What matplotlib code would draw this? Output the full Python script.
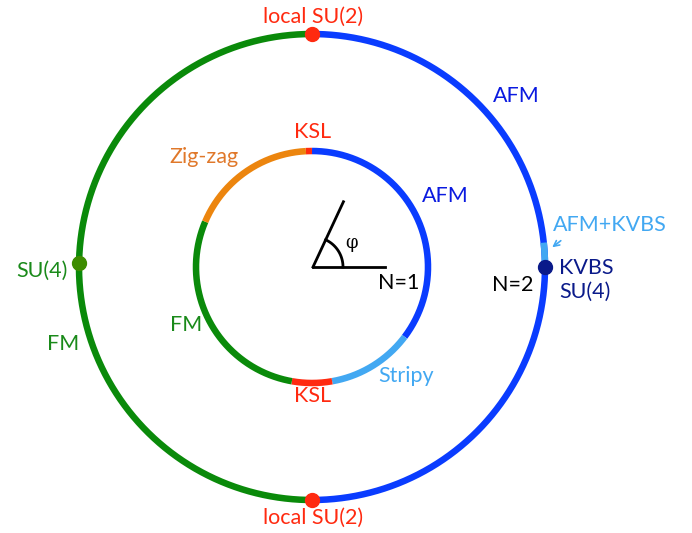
import numpy as np
import matplotlib.pyplot as plt

plt.rcParams['font.family'] = ['Lato', 'DejaVu Sans']

# phase boundaries in degrees (counter-clockwise from +x)
inner_phases = ['AFM', 'Stripy', 'KSL', 'FM', 'Zig-zag', 'KSL']
inner_start = [-37, -80, -100, 157, 93, 90]
inner_end = [90, -37, -80, 260, 157, 93]
inner_colors = ['#0a3cff', '#42a8f2', '#ff2a10', '#0a8a0a', '#ec850e', '#ff2a10']

outer_phases = ['AFM', 'FM', 'AFM+KVBS']
outer_start = [-90, 90, -1]
outer_end = [90, 270, 6]
outer_colors = ['#0a3cff', '#0a8a0a', '#42a8f2']

# special points on the N=2 circle
point_names = ['local SU(2)', 'local SU(2)', 'SU(4)', 'KVBS SU(4)']
point_angles = [90, -90, 179, 0]
point_colors = ['#ff2a10', '#ff2a10', '#3d8c00', '#0a1a8a']

cx, cy = 312, 267
r_in, r_out = 116, 233


def xy(r, deg):
    t = np.radians(deg)
    return cx + r * np.cos(t), cy - r * np.sin(t)


fig = plt.figure(figsize=(6.92, 5.33), dpi=100)
ax = fig.add_axes([0, 0, 1, 1])
ax.set_xlim(0, 692)
ax.set_ylim(533, 0)
ax.set_aspect('equal')
ax.axis('off')

for a0, a1, c in zip(outer_start, outer_end, outer_colors):
    x, y = xy(r_out, np.linspace(a0, a1, 300))
    ax.plot(x, y, color=c, lw=4.7, solid_capstyle='butt')

for a0, a1, c in zip(inner_start, inner_end, inner_colors):
    x, y = xy(r_in, np.linspace(a0, a1, 300))
    ax.plot(x, y, color=c, lw=4.7, solid_capstyle='butt')

for a, c in zip(point_angles, point_colors):
    x, y = xy(r_out, a)
    ax.plot(x, y, 'o', ms=10, color=c, zorder=5)

# angle phi
ax.plot([cx + 1, 385], [267, 267], color='black', lw=2)
x, y = xy(np.array([0, 72]), 65)
ax.plot(x + 1, y, color='black', lw=2)
x, y = xy(30, np.linspace(0, 65, 50))
ax.plot(x + 1, y, color='black', lw=2)
ax.text(352, 243, 'φ', fontsize=13, ha='center', va='center', family='DejaVu Serif')

fs = 15.5
ax.text(313, 17, 'local SU(2)', color='#ff2a10', fontsize=fs, ha='center', va='center')
ax.text(313, 518, 'local SU(2)', color='#ff2a10', fontsize=fs, ha='center', va='center')
ax.text(493, 96, 'AFM', color='#0a1ae0', fontsize=fs, ha='left', va='center')
ax.text(553, 225, 'AFM+KVBS', color='#42a8f2', fontsize=fs, ha='left', va='center')
ax.text(559, 268, 'KVBS', color='#0a1a8a', fontsize=fs, ha='left', va='center')
ax.text(559, 292, 'SU(4)', color='#0a1a8a', fontsize=fs, ha='left', va='center')
ax.text(533, 285, 'N=2', color='black', fontsize=fs, ha='right', va='center')
ax.text(68, 271, 'SU(4)', color='#1a8a1a', fontsize=fs, ha='right', va='center')
ax.text(47, 344, 'FM', color='#1a8a1a', fontsize=fs, ha='left', va='center')

ax.text(422, 196, 'AFM', color='#0a1ae0', fontsize=fs, ha='left', va='center')
ax.text(313, 132, 'KSL', color='#ff2a10', fontsize=fs, ha='center', va='center')
ax.text(169, 157, 'Zig-zag', color='#e0782a', fontsize=fs, ha='left', va='center')
ax.text(170, 325, 'FM', color='#1a8a1a', fontsize=fs, ha='left', va='center')
ax.text(378, 376, 'Stripy', color='#42a8f2', fontsize=fs, ha='left', va='center')
ax.text(313, 396, 'KSL', color='#ff2a10', fontsize=fs, ha='center', va='center')
ax.text(378, 283, 'N=1', color='black', fontsize=fs, ha='left', va='center')

ax.annotate('', xy=(550, 249), xytext=(563, 239),
            arrowprops=dict(arrowstyle='->', color='#42a8f2', lw=1.2))

fig.savefig('out.png', dpi=100)
